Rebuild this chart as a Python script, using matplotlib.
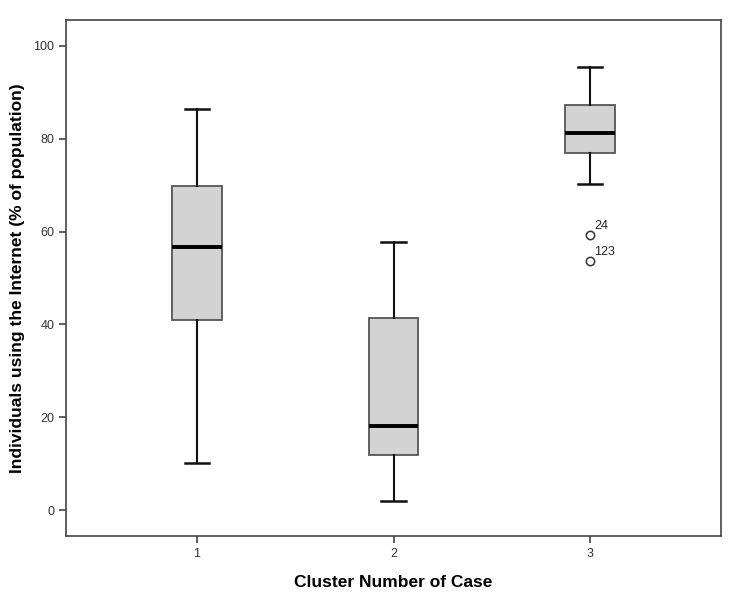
import matplotlib
matplotlib.use("Agg")
import matplotlib.pyplot as plt

plt.rcParams['font.family'] = ['Liberation Sans', 'DejaVu Sans']

clusters = [1, 2, 3]
whis_low = [10.2, 1.9, 70.2]
q1 = [40.9, 11.9, 76.9]
medians = [56.7, 18.1, 81.2]
q3 = [69.8, 41.4, 87.3]
whis_high = [86.4, 57.8, 95.5]
outliers = [[], [], [59.3, 53.7]]
outlier_ids = [[], [], ["24", "123"]]

stats = []
for i in range(len(clusters)):
    stats.append(dict(whislo=whis_low[i], q1=q1[i], med=medians[i], q3=q3[i],
                      whishi=whis_high[i], fliers=outliers[i], label=str(clusters[i])))

fig = plt.figure(figsize=(7.36, 5.99), dpi=100)
ax = fig.add_axes([0.0897, 0.1052, 0.8899, 0.8614])

ax.bxp(stats, positions=clusters, widths=0.25, capwidths=0.125, patch_artist=True,
       boxprops=dict(facecolor='#d3d3d3', edgecolor='#555555', linewidth=1.3),
       whiskerprops=dict(color='#111111', linewidth=1.5),
       capprops=dict(color='#111111', linewidth=1.8),
       medianprops=dict(color='black', linewidth=2.8),
       flierprops=dict(marker='o', markersize=6, markerfacecolor='none',
                       markeredgecolor='#333333', markeredgewidth=1.1))

for i, pos in enumerate(clusters):
    for val, lab in zip(outliers[i], outlier_ids[i]):
        ax.annotate(lab, (pos, val), xytext=(3, 4), textcoords='offset points',
                    fontsize=9, color='#222222')

ax.set_xlim(1 / 3, 3 + 2 / 3)
ax.set_ylim(-5.6, 105.6)
ax.set_yticks([0, 20, 40, 60, 80, 100])

for s in ax.spines.values():
    s.set_color('#444444')
    s.set_linewidth(1.2)
ax.tick_params(direction='out', length=5, width=1.2, color='#444444',
               labelsize=9, labelcolor='#333333')

ax.set_xlabel('Cluster Number of Case', fontsize=12.5, fontweight='bold', labelpad=11)
ax.set_ylabel('Individuals using the Internet (% of population)', fontsize=12.5,
              fontweight='bold', labelpad=6)

fig.savefig('out.png', dpi=100)
